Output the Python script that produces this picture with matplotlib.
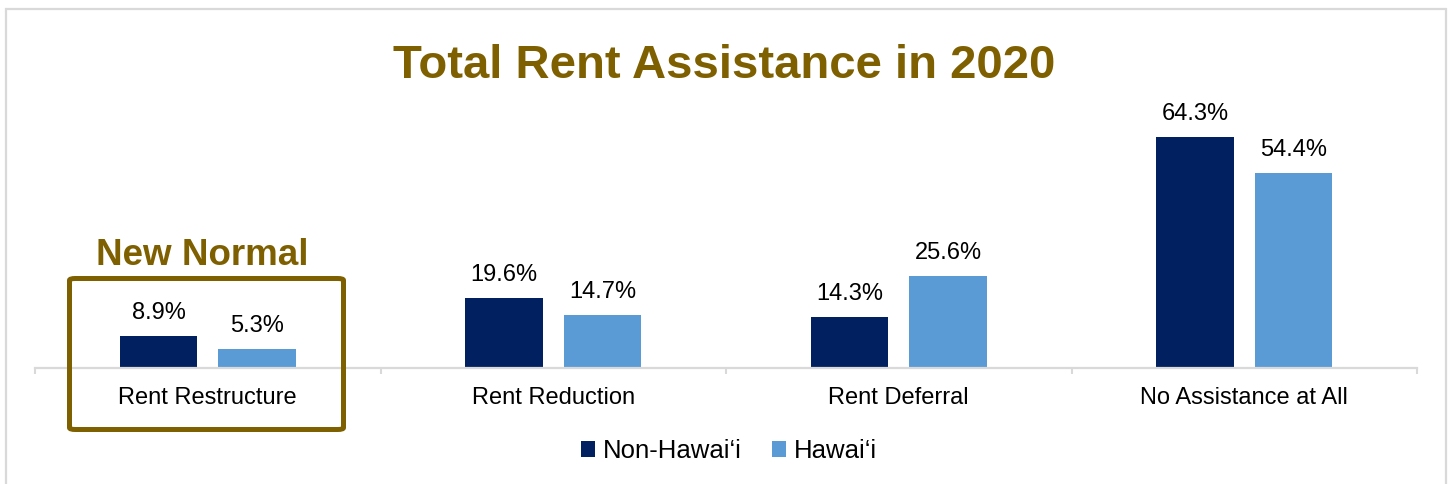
import numpy as np
import matplotlib.pyplot as plt
from matplotlib.patches import FancyBboxPatch, Rectangle

# 数据
categories = ["Rent Restructure", "Rent Reduction", "Rent Deferral", "No Assistance at All"]
non_hawaii = [8.9, 19.6, 14.3, 64.3]
hawaii = [5.3, 14.7, 25.6, 54.4]
series_names = ["Non-Hawai\u2018i", "Hawai\u2018i"]

gold = "#7F6000"
navy = "#002060"
sky = "#5B9BD5"
grey = "#D9D9D9"

plt.rcParams['font.family'] = ['Liberation Sans', 'DejaVu Sans']

W, H = 1451, 484
fig = plt.figure(figsize=(W / 100, H / 100), dpi=100)

# 外框
fig.patches.append(Rectangle((5.5 / W, -0.1), 1440 / W, 1.1 - 9 / H,
                             transform=fig.transFigure, fill=False,
                             edgecolor=grey, linewidth=1.6))

ax = fig.add_axes([35 / W, (H - 368) / H, 1382 / W, 251.5 / H])
x = np.arange(len(categories))
off, bw = 0.1425, 0.223
b1 = ax.bar(x - off, non_hawaii, bw, color=navy, label=series_names[0])
b2 = ax.bar(x + off, hawaii, bw, color=sky, label=series_names[1])

for bars, vals in [(b1, non_hawaii), (b2, hawaii)]:
    for r, v in zip(bars, vals):
        ax.annotate(f"{v:.1f}%", (r.get_x() + r.get_width() / 2, v),
                    xytext=(0, 8.5), textcoords="offset points",
                    ha="center", va="bottom", fontsize=17)

ax.set_xlim(-0.5, len(categories) - 0.5)
ax.set_ylim(0, 70)
ax.set_yticks([])
for s in ["top", "right", "left"]:
    ax.spines[s].set_visible(False)
ax.spines["bottom"].set_color(grey)
ax.spines["bottom"].set_linewidth(1.6)

# 分隔刻度
ax.set_xticks(np.arange(len(categories) + 1) - 0.5)
ax.set_xticklabels([])
ax.tick_params(axis="x", which="major", length=4.5, width=1.5, color=grey)
ax.set_xticks(x, minor=True)
ax.set_xticklabels(categories, minor=True, fontsize=17)
ax.tick_params(axis="x", which="minor", length=0, pad=13.5)

fig.text(724 / W, 1 - 78 / H, "Total Rent Assistance in 2020", ha="center",
         va="baseline", fontsize=34, fontweight="bold", color=gold)
fig.text(202 / W, 1 - 265 / H, "New Normal", ha="center", va="baseline",
         fontsize=26.5, fontweight="bold", color=gold)

box = FancyBboxPatch((69.5 / W, 54.5 / H), 274 / W, 151 / H,
                     boxstyle="round,pad=0,rounding_size=0.004",
                     transform=fig.transFigure, fill=False,
                     edgecolor=gold, linewidth=3.6)
fig.patches.append(box)

fig.legend(handles=[b1, b2], labels=series_names, loc="center",
           bbox_to_anchor=(729 / W, 1 - 451 / H), ncol=2, frameon=False,
           fontsize=18.5, handlelength=0.55, handleheight=0.55,
           handletextpad=0.32, columnspacing=1.15)

fig.savefig("out.png", dpi=100)
